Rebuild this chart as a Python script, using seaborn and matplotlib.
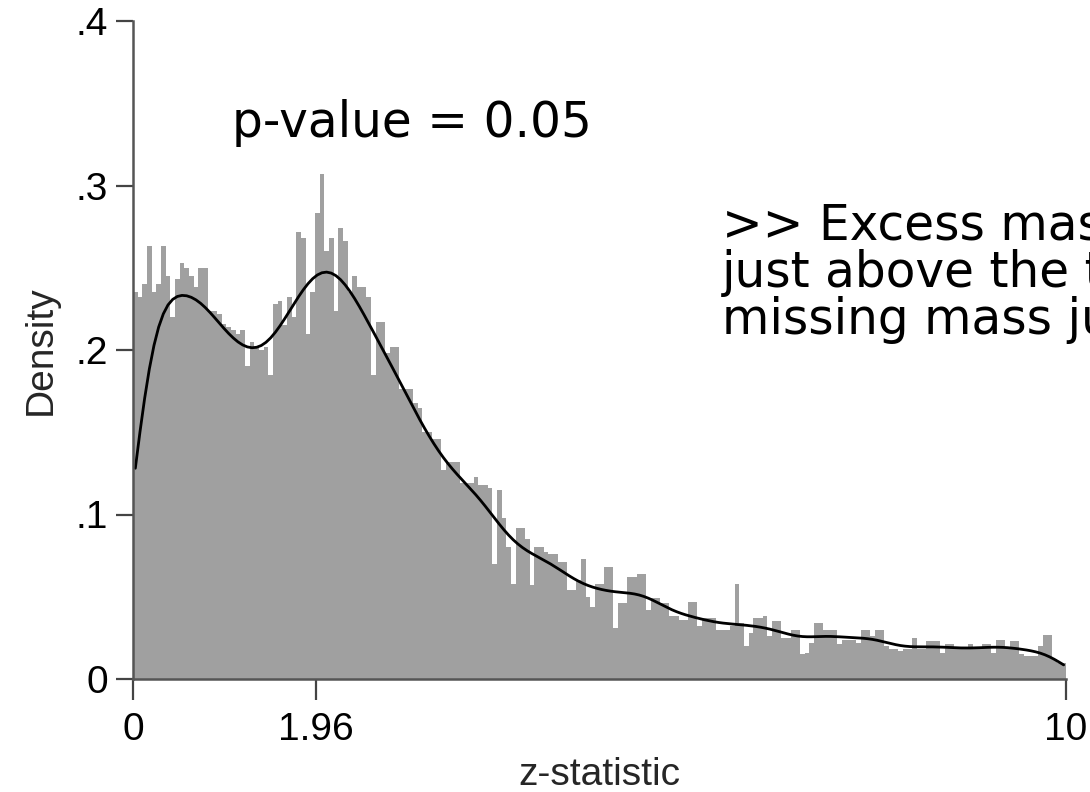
import numpy as np
import pandas as pd
import matplotlib
matplotlib.use("Agg")
import matplotlib.pyplot as plt
import seaborn as sns

# ---- data ----
bin_edges_range = (0.0, 10.0)
n_bins = 200
heights = [
    0.235, 0.232, 0.240, 0.263, 0.235, 0.240, 0.263, 0.245, 0.220, 0.243,
    0.253, 0.250, 0.245, 0.238, 0.250, 0.250, 0.224, 0.224, 0.222, 0.216,
    0.214, 0.212, 0.210, 0.212, 0.190, 0.205, 0.202, 0.200, 0.202, 0.185,
    0.228, 0.230, 0.215, 0.232, 0.220, 0.272, 0.268, 0.210, 0.235, 0.283,
    0.307, 0.260, 0.268, 0.224, 0.274, 0.266, 0.235, 0.245, 0.238, 0.238,
    0.232, 0.185, 0.217, 0.217, 0.198, 0.202, 0.202, 0.176, 0.176, 0.176,
    0.168, 0.165, 0.150, 0.150, 0.146, 0.146, 0.127, 0.132, 0.132, 0.132,
    0.119, 0.119, 0.119, 0.123, 0.118, 0.118, 0.116, 0.070, 0.115, 0.098,
    0.080, 0.058, 0.092, 0.092, 0.085, 0.057, 0.080, 0.080, 0.077, 0.076,
    0.076, 0.071, 0.071, 0.054, 0.054, 0.060, 0.073, 0.050, 0.044, 0.058,
    0.058, 0.068, 0.068, 0.031, 0.046, 0.046, 0.062, 0.062, 0.064, 0.064,
    0.042, 0.049, 0.049, 0.046, 0.046, 0.038, 0.038, 0.036, 0.036, 0.047,
    0.047, 0.032, 0.037, 0.037, 0.037, 0.030, 0.030, 0.030, 0.032, 0.058,
    0.034, 0.020, 0.028, 0.037, 0.037, 0.038, 0.026, 0.035, 0.035, 0.025,
    0.025, 0.030, 0.030, 0.015, 0.016, 0.022, 0.034, 0.034, 0.030, 0.030,
    0.030, 0.021, 0.024, 0.024, 0.024, 0.022, 0.030, 0.030, 0.026, 0.030,
    0.030, 0.020, 0.018, 0.018, 0.017, 0.018, 0.018, 0.025, 0.018, 0.018,
    0.023, 0.023, 0.023, 0.016, 0.021, 0.021, 0.018, 0.018, 0.018, 0.021,
    0.018, 0.018, 0.021, 0.021, 0.016, 0.024, 0.024, 0.019, 0.023, 0.023,
    0.015, 0.014, 0.014, 0.014, 0.020, 0.027, 0.027, 0.012, 0.010, 0.010,
]
x_ticks = [0, 1.96, 10]
x_tick_labels = ["0", "1.96", "10"]
y_ticks = [0, 0.1, 0.2, 0.3, 0.4]
y_tick_labels = ["0", ".1", ".2", ".3", ".4"]
x_label = "z-statistic"
y_label = "Density"
note_threshold = "p-value = 0.05"
note_lines = [">> Excess mass", "just above the threshold", "missing mass just below"]

edges = np.linspace(bin_edges_range[0], bin_edges_range[1], n_bins + 1)
centers = (edges[:-1] + edges[1:]) / 2
df = pd.DataFrame({"z": centers, "h": heights})

sns.set_theme(style="ticks")
plt.rcParams["font.family"] = ["Liberation Sans", "DejaVu Sans"]

fig = plt.figure(figsize=(10.9, 7.92), dpi=100)
ax = fig.add_axes([133 / 1090, 1 - 679 / 792, (1066 - 133) / 1090, (679 - 21) / 792])

sns.histplot(data=df, x="z", weights="h", bins=n_bins, binrange=bin_edges_range,
             stat="count", color="#a0a0a0", alpha=1.0, linewidth=0, ax=ax)
sns.kdeplot(data=df, x="z", weights="h", bw_method=0.095, cut=0,
            color="black", linewidth=2.0, ax=ax)

ax.set_xlim(0, 10)
ax.set_ylim(0, 0.4)
ax.set_xticks(x_ticks)
ax.set_xticklabels(x_tick_labels)
ax.set_yticks(y_ticks)
ax.set_yticklabels(y_tick_labels)
ax.set_xlabel(x_label, fontsize=28, labelpad=6)
ax.set_ylabel(y_label, fontsize=28, labelpad=12)
ax.tick_params(axis="both", labelsize=28, colors="#444444", labelcolor="black",
               width=1.6, direction="out")
ax.tick_params(axis="x", length=15, pad=9)
ax.tick_params(axis="y", length=12, pad=6)
for s in ["top", "right"]:
    ax.spines[s].set_visible(False)
for s in ["left", "bottom"]:
    ax.spines[s].set_color("#555555")
    ax.spines[s].set_linewidth(1.8)

note_font = ["DejaVu Sans"]
fig.text(232 / 1090, 1 - 137 / 792, note_threshold, fontsize=35,
         family=note_font, color="black", ha="left", va="baseline")
for k, line in enumerate(note_lines):
    fig.text(722 / 1090, 1 - (240 + 47 * k) / 792, line, fontsize=35,
             family=note_font, color="black", ha="left", va="baseline")

fig.savefig("out.png", dpi=100)
